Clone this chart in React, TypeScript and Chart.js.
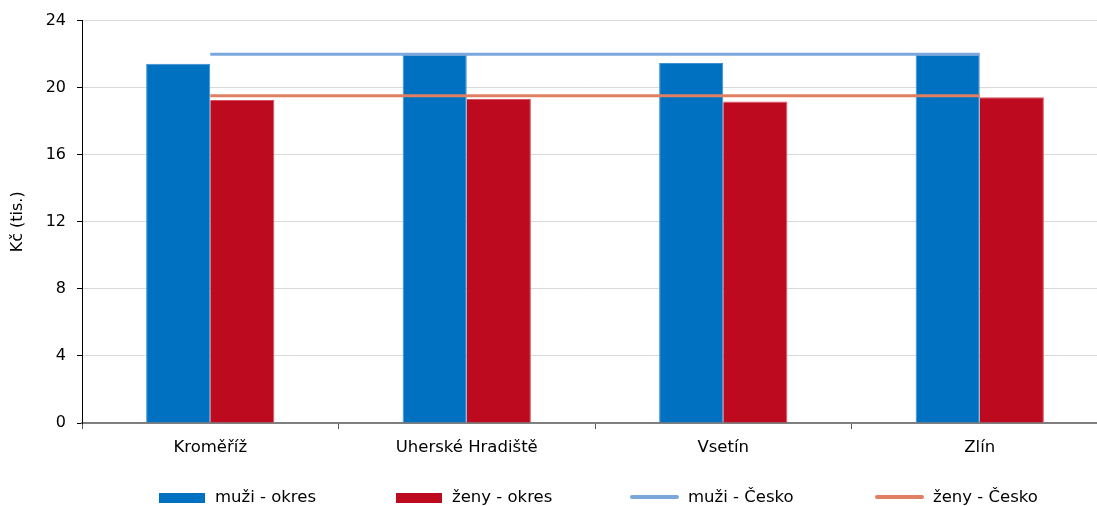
import React, { useEffect, useRef } from "react";
import { Chart, registerables } from "chart.js";

Chart.register(...registerables);

const categories = ["Kroměříž", "Uherské Hradiště", "Vsetín", "Zlín"];
const muziOkres = [21.42, 21.95, 21.47, 21.95];
const zenyOkres = [19.27, 19.33, 19.18, 19.43];
const muziCesko = [22.0, 22.0, 22.0, 22.0];
const zenyCesko = [19.52, 19.52, 19.52, 19.52];
const yTicks = [0, 4, 8, 12, 16, 20, 24];
const seriesLabels = ["muži - okres", "ženy - okres", "muži - Česko", "ženy - Česko"];

const FONT = "'DejaVu Sans', 'Liberation Sans', Arial, sans-serif";
const legendStarts = [159, 396, 630, 875];
const EXTEND_RIGHT = 11;

const extendPlot = {
  id: "extendPlot",
  afterLayout(chart: any) {
    const x = chart.scales.x;
    x.right += EXTEND_RIGHT;
    x.width += EXTEND_RIGHT;
    x.configure();
    chart.chartArea.right += EXTEND_RIGHT;
    chart.chartArea.width += EXTEND_RIGHT;
  },
};

const customLegend = {
  id: "customLegend",
  afterDraw(chart: any) {
    const ctx = chart.ctx;
    const yc = 498;
    ctx.save();
    ctx.font = `16.5px ${FONT}`;
    ctx.textBaseline = "middle";
    chart.data.datasets.forEach((ds: any, i: number) => {
      const x = legendStarts[i];
      let textX;
      if (ds.type === "line") {
        ctx.strokeStyle = ds.borderColor;
        ctx.lineWidth = 4;
        ctx.lineCap = "round";
        ctx.beginPath();
        ctx.moveTo(x + 2, yc - 1);
        ctx.lineTo(x + 47, yc - 1);
        ctx.stroke();
        textX = x + 58;
      } else {
        ctx.fillStyle = ds.backgroundColor;
        ctx.fillRect(x, yc - 5, 46, 10);
        textX = x + 56;
      }
      ctx.fillStyle = "#000";
      ctx.fillText(ds.label, textX, yc);
    });
    ctx.restore();
  },
};

export default function App() {
  const ref = useRef<HTMLCanvasElement>(null);
  useEffect(() => {
    document.body.style.margin = "0";
    const chart = new Chart(ref.current!, {
      type: "bar",
      data: {
        labels: categories,
        datasets: [
          {
            type: "bar",
            label: seriesLabels[0],
            data: muziOkres,
            backgroundColor: "#0070c0",
            borderColor: "#3b8fd2",
            borderWidth: 1,
            order: 2,
          },
          {
            type: "bar",
            label: seriesLabels[1],
            data: zenyOkres,
            backgroundColor: "#be0a1e",
            borderColor: "#d8505e",
            borderWidth: { right: 1, top: 1, left: 0, bottom: 0 },
            order: 2,
          },
          {
            type: "line",
            label: seriesLabels[2],
            data: muziCesko,
            borderColor: "#7ba7dc",
            borderWidth: 3,
            pointRadius: 0,
            fill: false,
            order: 1,
          },
          {
            type: "line",
            label: seriesLabels[3],
            data: zenyCesko,
            borderColor: "#e07f62",
            borderWidth: 3,
            pointRadius: 0,
            fill: false,
            order: 1,
          },
        ] as any,
      },
      options: {
        animation: false,
        responsive: true,
        maintainAspectRatio: false,
        layout: { padding: { top: 20, right: 0, left: 0, bottom: 50 } },
        datasets: {
          bar: { categoryPercentage: 0.5, barPercentage: 1 },
        } as any,
        plugins: {
          legend: { display: false },
          tooltip: { enabled: false },
          title: { display: false },
        },
        scales: {
          x: {
            grid: {
              offset: true,
              drawOnChartArea: false,
              drawTicks: true,
              tickLength: 6,
              tickColor: "#595959",
              lineWidth: 1,
            },
            border: { color: "#7f7f7f", width: 2 },
            ticks: {
              color: "#000",
              font: { family: FONT, size: 16.5 },
              padding: 9,
              maxRotation: 0,
            },
            afterFit(scale: any) {
              scale.height = 33;
            },
          },
          y: {
            min: 0,
            max: 24,
            afterBuildTicks(scale: any) {
              scale.ticks = yTicks.map((v) => ({ value: v }));
            },
            grid: {
              color: "#d9d9d9",
              lineWidth: 1,
              drawTicks: true,
              tickLength: 5,
              tickColor: "#000",
            },
            border: { color: "#000", width: 1 },
            ticks: {
              color: "#000",
              font: { family: FONT, size: 16 },
              padding: 11,
            },
            title: {
              display: true,
              text: "Kč (tis.)",
              color: "#000",
              font: { family: FONT, size: 16 },
              padding: { top: 8, bottom: 0 },
            },
            afterFit(scale: any) {
              scale.width = 82;
            },
          },
        },
      },
      plugins: [extendPlot, customLegend],
    });
    return () => chart.destroy();
  }, []);
  return (
    <div style={{ position: "relative", width: 1097, height: 506 }}>
      <canvas ref={ref} />
    </div>
  );
}
